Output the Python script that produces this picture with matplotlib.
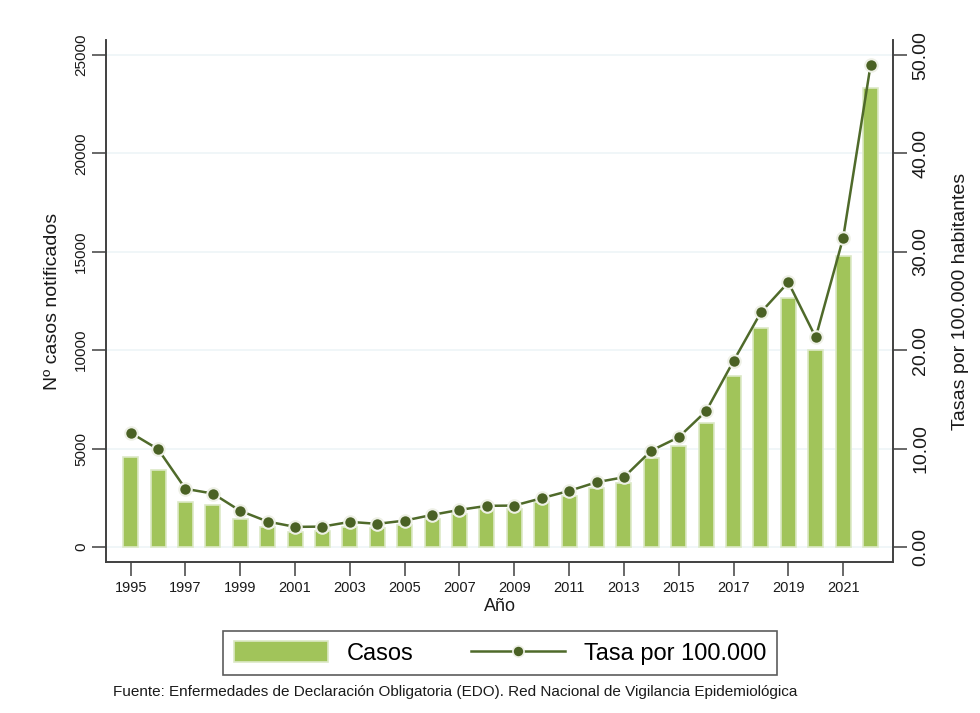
import matplotlib
matplotlib.use("Agg")
import matplotlib.pyplot as plt
from matplotlib.patches import Patch
from matplotlib.lines import Line2D

plt.rcParams['font.family'] = ['Liberation Sans', 'DejaVu Sans']

years = list(range(1995, 2023))
casos = [4550, 3910, 2300, 2120, 1420, 1030, 780, 810, 1030, 950,
         1120, 1410, 1680, 1910, 1930, 2300, 2590, 2980, 3270, 4510,
         5150, 6320, 8700, 11110, 12640, 10010, 14810, 23310]
tasa = [11.6, 9.93, 5.9, 5.42, 3.66, 2.57, 2.03, 2.06, 2.54, 2.34,
        2.67, 3.25, 3.76, 4.17, 4.2, 4.95, 5.69, 6.57, 7.08, 9.79,
        11.15, 13.8, 18.9, 23.85, 26.9, 21.3, 31.4, 48.95]
left_ticks = [0, 5000, 10000, 15000, 20000, 25000]
right_ticks = [0, 10, 20, 30, 40, 50]
x_ticks = list(range(1995, 2022, 2))

bar_color = '#a1c45a'
bar_edge = '#dce9c6'
line_color = '#4f6a2a'
marker_color = '#4a6124'
spine_color = '#404040'
text_color = '#1a1a1a'

fig = plt.figure(figsize=(9.8, 7.13), dpi=100)
ax = fig.add_axes([106/980, 1-562/713, (893-106)/980, (562-40)/713])
ax2 = ax.twinx()

for t in left_ticks:
    ax.axhline(t, color='#eef5f7', lw=1.2, zorder=0)

ax.bar(years, casos, width=0.55, color=bar_color, edgecolor=bar_edge, linewidth=1.2, zorder=2)
ax2.plot(years, tasa, color=line_color, lw=1.8, marker='o', markersize=9,
         markerfacecolor=marker_color, markeredgecolor='#eef0e6', markeredgewidth=1.5, zorder=3)

ax.set_xlim(1995 - 0.9, 2022 + 0.82)
ax.set_ylim(-770, 25770)
ax2.set_ylim(-770/500, 25770/500)

ax.set_xticks(x_ticks)
ax.set_xticklabels([str(y) for y in x_ticks], fontsize=10.5, color=text_color)
ax.set_yticks(left_ticks)
ax.set_yticklabels([str(v) for v in left_ticks], fontsize=11, rotation=90, va='center', color=text_color)
ax2.set_yticks(right_ticks)
ax2.set_yticklabels([f"{v:.2f}" for v in right_ticks], fontsize=14, rotation=90, va='center', color=text_color)

for a in (ax, ax2):
    a.spines['top'].set_visible(False)
    for s in ('left', 'right', 'bottom'):
        a.spines[s].set_color(spine_color)
        a.spines[s].set_linewidth(1.2)
    a.tick_params(direction='out', length=10, width=1.1, color=spine_color)
ax.tick_params(axis='x', pad=4)
ax.tick_params(axis='y', pad=3)
ax2.tick_params(axis='y', pad=4)

ax.set_ylabel('Nº casos notificados', fontsize=14, color=text_color, labelpad=9)
ax2.set_ylabel('Tasas por 100.000 habitantes', fontsize=14, color=text_color, labelpad=16)
ax.set_xlabel('Año', fontsize=13, color=text_color, labelpad=2)

handles = [Patch(facecolor=bar_color, edgecolor=bar_edge, linewidth=1.2),
           Line2D([0], [0], color=line_color, lw=1.8, marker='o', markersize=8,
                  markerfacecolor=marker_color, markeredgecolor='#eef0e6', markeredgewidth=1.2)]
leg = fig.legend(handles, ['Casos', 'Tasa por 100.000'], loc='center',
                 bbox_to_anchor=(500/980, 1-653/713), ncol=2, fontsize=17,
                 frameon=True, fancybox=False, edgecolor='#333333', handlelength=4,
                 handleheight=1.0, columnspacing=2.4, handletextpad=0.8, borderpad=0.45)
leg.get_frame().set_linewidth(1.2)

fig.text(113/980, 1-692/713, 'Fuente: Enfermedades de Declaración Obligatoria (EDO). Red Nacional de Vigilancia Epidemiológica',
         fontsize=11, ha='left', va='center', color=text_color)

fig.savefig('out.png', dpi=100, facecolor='white')
